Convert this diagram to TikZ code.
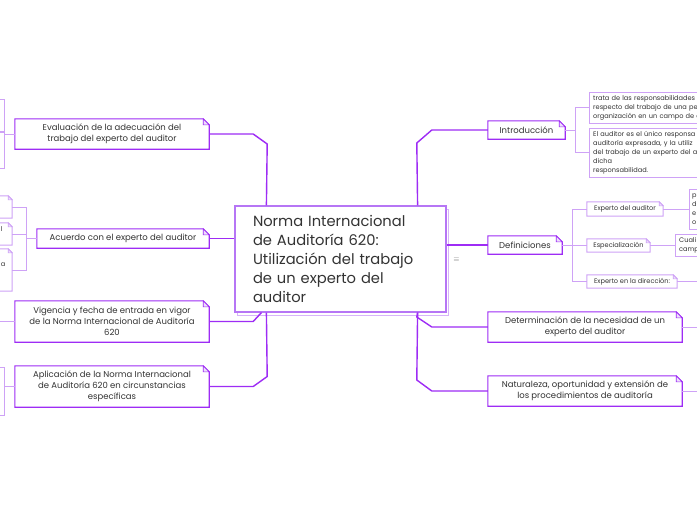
\documentclass[tikz,border=0pt]{standalone}
\usepackage{fontspec}
\setmainfont{Poppins}
\usetikzlibrary{calc}
\definecolor{dk}{RGB}{158,44,245}
\definecolor{lt}{RGB}{206,162,246}
\definecolor{cb}{RGB}{182,118,245}
\definecolor{tx}{RGB}{51,51,51}
\tikzset{
 mainline/.style={draw=dk, line width=1.4pt},
 thinline/.style={draw=lt, line width=1pt},
 oneline/.style={draw=dk, line width=1.1pt},
 twoline/.style={draw=lt, line width=1pt},
 boxone/.style={fill=white, inner sep=0pt, align=center, text=tx, font=\fontsize{8.5}{10.9}\selectfont},
 boxtwo/.style={fill=white, inner sep=0pt, align=center, text=tx, font=\fontsize{6.6}{8.9}\selectfont},
}
\newcommand\noteline[3]{%
 \draw[#2] (#1.south west) -- (#1.north west) -- ([xshift=-#3]#1.north east) -- ([yshift=-#3]#1.north east) -- (#1.south east) -- cycle;
 \draw[#2, line width=0.6pt, fill=lt!35] ([xshift=-#3]#1.north east) -- ([xshift=-#3,yshift=-#3]#1.north east) -- ([yshift=-#3]#1.north east) -- cycle;}
\newcommand\plainline[2]{\draw[#2] (#1.south west) rectangle (#1.north east);}
\begin{document}
\begin{tikzpicture}[x=1pt,y=-1pt]
\useasboundingbox (0,0) rectangle (697,520);
\fill[white] (0,0) rectangle (697,520);
\clip (0,0) rectangle (697,520);

% central node
\draw[cb!55, line width=1pt, fill=white] (237.5,209) rectangle (448,315);
\node[fill=white, draw=cb, line width=1.2pt, inner xsep=18pt, inner ysep=0pt, text width=175pt, minimum height=106pt, align=left, text=tx, font=\fontsize{14.7}{19}\selectfont] (center) at (340.5,259) {Norma Internacional\\de Auditoría 620:\\Utilización del trabajo\\de un experto del\\auditor};
\node[text=gray, inner sep=0pt, font=\fontsize{7.5}{7.5}\selectfont] (menu) at (456.5,260) {$\equiv$};

% level one boxes
\node[boxone, minimum width=194pt, minimum height=30pt] (eval) at (112,134) {Evaluación de la adecuación del\\trabajo del experto del auditor};
\node[boxone, minimum width=172pt, minimum height=19pt] (acu) at (123,238.5) {Acuerdo con el experto del auditor};
\node[boxone, minimum width=194pt, minimum height=41pt] (vig) at (112,321.5) {Vigencia y fecha de entrada en vigor\\de la Norma Internacional de Auditoría\\620};
\node[boxone, minimum width=194pt, minimum height=41pt] (apl) at (112,386.5) {Aplicación de la Norma Internacional\\de Auditoría 620 en circunstancias\\específicas};
\node[boxone, minimum width=77pt, minimum height=18pt] (intro) at (526.5,130) {Introducción};
\node[boxone, minimum width=74pt, minimum height=18pt] (def) at (525,245) {Definiciones};
\node[boxone, minimum width=194pt, minimum height=30pt] (det) at (585,327) {Determinación de la necesidad de un\\experto del auditor};
\node[boxone, minimum width=194pt, minimum height=30pt] (nat) at (585,391) {Naturaleza, oportunidad y extensión de\\los procedimientos de auditoría};
\foreach \n in {eval,acu,vig,apl,intro,def,det,nat}{\noteline{\n}{oneline}{6pt}}

% level two boxes, right
\node[boxtwo, anchor=north west, minimum width=130pt, minimum height=31pt, text width=122pt, inner xsep=4pt, align=left] (i1) at (589,92) {trata de las responsabilidades\\respecto del trabajo de una pe\\organización en un campo de e};
\node[boxtwo, anchor=north west, minimum width=130pt, minimum height=49pt, text width=122pt, inner xsep=4pt, align=left] (i2) at (589,128) {El auditor es el único responsa\\auditoría expresada, y la utiliz\\del trabajo de un experto del a\\dicha\\ responsabilidad.};
\plainline{i1}{twoline}
\plainline{i2}{twoline}
\node[boxtwo, minimum width=76pt, minimum height=14pt] (e1) at (625,209) {Experto del auditor};
\node[boxtwo, minimum width=63pt, minimum height=13pt] (e2) at (618.5,245.5) {Especialización};
\node[boxtwo, minimum width=90pt, minimum height=13pt] (e3) at (632,281.5) {Experto en la dirección:};
\foreach \n in {e1,e2,e3}{\noteline{\n}{twoline}{4pt}}
\node[boxtwo, anchor=north west, minimum width=41pt, minimum height=40pt, text width=35pt, inner xsep=3pt, align=left] (p3) at (689,189) {p\\d\\e\\o};
\node[boxtwo, anchor=north west, minimum width=55pt, minimum height=22pt, text width=47pt, inner xsep=4pt, align=left] (c3) at (675,234) {Cuali\\camp};
\plainline{p3}{twoline}
\plainline{c3}{twoline}

% level two boxes, left
\node[boxtwo, minimum width=14.5pt, minimum height=31.5pt] (ev1) at (-2.75,115.75) {};
\node[boxtwo, minimum width=14.5pt, minimum height=35pt] (ev2) at (-2.75,150.5) {};
\plainline{ev1}{twoline}
\plainline{ev2}{twoline}
\node[boxtwo, minimum width=32pt, minimum height=22pt] (a1) at (-4,207) {};
\node[boxtwo, minimum width=32pt, minimum height=22pt] (a2) at (-4,234) {};
\node[boxtwo, minimum width=32pt, minimum height=42pt] (a3) at (-4,270) {};
\foreach \n in {a1,a2,a3}{\noteline{\n}{twoline}{4pt}}
\node[boxtwo, fill=none] (a2t) at (1.5,229.5) {l};
\node[boxtwo, fill=none] (a3t) at (3,265) {a};
\node[boxtwo, minimum width=24.5pt, minimum height=47pt] (ap1) at (-7.75,391.5) {};
\plainline{ap1}{twoline}

% free ends
\coordinate (vigend) at (-5,321.5);
\coordinate (e3end) at (705,281.5);
\coordinate (detend) at (705,327);
\coordinate (natend) at (705,391);

% main connectors
\draw[mainline] (eval.east) -- ++(44,0) -- ++(14,10) -- ([xshift=32pt]center.north west);
\draw[mainline] (acu.east) -- (acu.east -| center.west);
\draw[mainline] (vig.east) -- ++(44,0) -- ([xshift=27pt]center.south west);
\draw[mainline] (apl.east) -- ++(44,0) -- ++(14,-10) -- ([xshift=32pt]center.south west);
\draw[mainline] (intro.west) -- ++(-56,0) -- ++(-15,13) -- ([xshift=-29pt]center.north east);
\draw[mainline] (def.west) -- (def.west -| center.east);
\draw[mainline] (det.west) -- ++(-56,0) -- ++(-15,-10) -- ([xshift=-29pt]center.south east);
\draw[mainline] (nat.west) -- ++(-56,0) -- ++(-15,-11) -- ([xshift=-29pt]center.south east);

% child connectors
\draw[thinline] (intro.east) -- ++(10,0) coordinate (ib) |- (i1.west);
\draw[thinline] (ib) |- (i2.west);
\draw[thinline] (def.east) -- ++(10,0) coordinate (db) |- (e1.west);
\draw[thinline] (db) |- (e2.west);
\draw[thinline] (db) |- (e3.west);
\draw[thinline] (e1.east) -- (e1.east -| p3.west);
\draw[thinline] (e2.east) -- (e2.east -| c3.west);
\draw[thinline] (e3.east) -- (e3end);
\draw[thinline] (det.east) -- (detend);
\draw[thinline] (nat.east) -- (natend);
\draw[thinline] (eval.west) -- (eval.west -| ev2.east);
\draw[thinline] (acu.west) -- ++(-10,0) coordinate (ab) |- (a1.east);
\draw[thinline] (ab) |- (a2.east);
\draw[thinline] (ab) |- (a3.east);
\draw[thinline] (vig.west) -- (vigend);
\draw[thinline] (apl.west) -- (apl.west -| ap1.east);
\end{tikzpicture}
\end{document}
